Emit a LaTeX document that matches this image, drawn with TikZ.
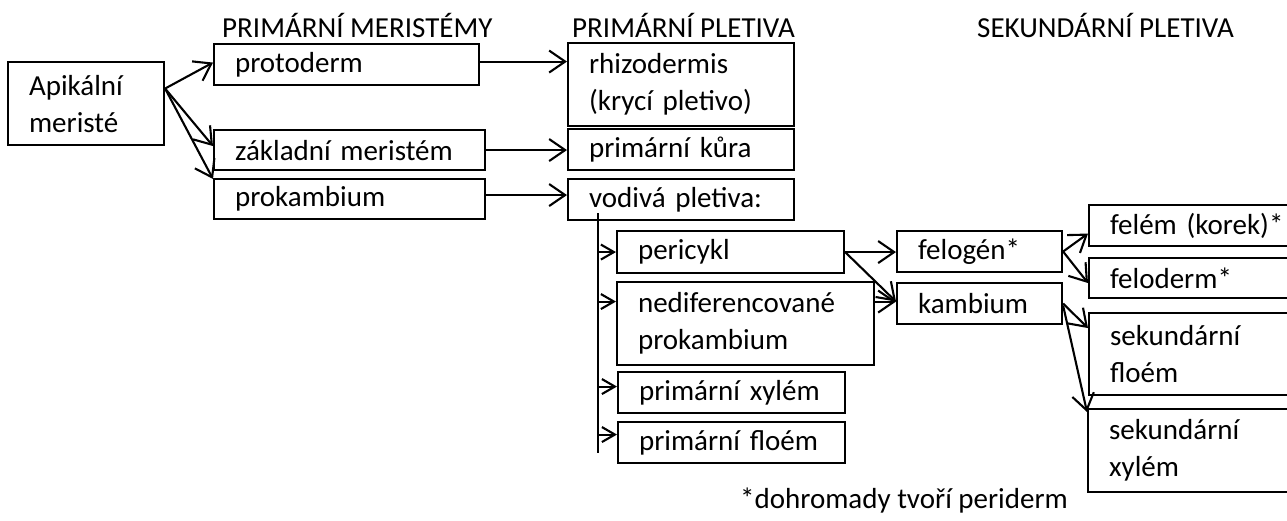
\documentclass[tikz,border=0pt]{standalone}
\usepackage{fontspec}
\setmainfont{Carlito}
\usetikzlibrary{arrows.meta,calc}
\tikzset{
  box/.style={draw, line width=2.1pt, inner xsep=21pt, inner ysep=0pt, anchor=north west, align=left},
  hdr/.style={anchor=base west, inner sep=0pt},
  arr/.style={line width=2.1pt, -{Straight Barb[length=16pt,width=22pt,line width=2.1pt]}},
  sarr/.style={line width=2.1pt, -{Straight Barb[length=13pt,width=15pt,line width=2.1pt]}},
  vline/.style={line width=2.1pt}
}
\begin{document}
\begin{tikzpicture}[x=1pt,y=-1pt,font=\fontsize{29}{37}\selectfont]
\useasboundingbox (0,0) rectangle (1287,520);
% headers
\node[hdr] (h1) at (222,37) {PRIMÁRNÍ MERISTÉMY};
\node[hdr] (h2) at (572,37) {PRIMÁRNÍ PLETIVA};
\node[hdr] (h3) at (977,37) {SEKUNDÁRNÍ PLETIVA};
% column 1
\node[box, text width=114pt, minimum height=83pt] (apik) at (7,61) {Apikální\\meristé};
% column 2
\node[box, text width=223pt, minimum height=41pt] (proto) at (213,43) {protoderm};
\node[box, text width=229pt, minimum height=40pt] (zakl) at (213,129) {základní meristém};
\node[box, text width=229pt, minimum height=40pt] (prok) at (213,178) {prokambium};
% column 3
\node[box, text width=184pt, minimum height=83pt] (rhiz) at (567,42) {rhizodermis\\(krycí pletivo)};
\node[box, text width=184pt, minimum height=41pt] (kura) at (567,128) {primární kůra};
\node[box, text width=184pt, minimum height=41pt] (vod) at (567,178) {vodivá pletiva:};
% sub column
\node[box, text width=185pt, minimum height=42pt] (peri) at (616,230) {pericykl};
\node[box, text width=215pt, minimum height=83pt] (nedif) at (616,281) {nediferencované\\prokambium};
\node[box, text width=185pt, minimum height=41pt] (pxyl) at (617,371) {primární xylém};
\node[box, text width=185pt, minimum height=41pt] (pflo) at (617,421) {primární floém};
% column 4
\node[box, text width=123pt, minimum height=41pt] (felog) at (896,230) {felogén*};
\node[box, text width=123pt, minimum height=41pt] (kamb) at (896,282) {kambium};
% column 5
\node[box, text width=218pt, minimum height=41pt] (felem) at (1088,204) {felém (korek)*};
\node[box, text width=218pt, minimum height=40pt] (felod) at (1088,257) {feloderm*};
\node[box, text width=218pt, minimum height=82pt] (sflo) at (1088,312) {sekundární\\floém};
\node[box, text width=218pt, minimum height=83pt] (sxyl) at (1087,408) {sekundární\\xylém};
% footnote
\node[hdr] (foot) at (740,508) {*dohromady tvoří periderm};
% arrows from apical meristem
\coordinate (astart) at ([yshift=15pt]apik.east);
\draw[arr] (astart) -- ([yshift=2pt]proto.west);
\draw[arr] (astart) -- ([yshift=4pt]zakl.west);
\draw[arr] (astart) -- ([yshift=-1pt]prok.north west);
% primary meristems to primary tissues
\draw[arr] ([yshift=3pt]proto.east) -- ([yshift=3pt]proto.east -| rhiz.west);
\draw[arr] (zakl.east) -- (zakl.east -| kura.west);
\draw[arr] ([yshift=4pt]prok.east) -- ([yshift=4pt]prok.east -| vod.west);
% vertical line
\coordinate (vtop) at (598,213);
\coordinate (vbot) at (598,453);
\draw[vline] (vtop) -- (vbot);
\coordinate (pa) at (peri.west);
\coordinate (na) at ([yshift=22pt]nedif.west);
\coordinate (xa) at ([yshift=6pt]pxyl.west);
\coordinate (fa) at ([yshift=8pt]pflo.west);
\draw[sarr] (vtop |- pa) -- (pa);
\draw[sarr] (vtop |- na) -- (na);
\draw[sarr] (vtop |- xa) -- (xa);
\draw[sarr] (vtop |- fa) -- (fa);
% to secondary meristems
\draw[arr] (peri.east) -- (peri.east -| felog.west);
\draw[arr] (peri.east) -- ([yshift=2pt]kamb.west);
\coordinate (ka) at ([yshift=2pt]kamb.west);
\draw[arr] (nedif.east |- ka) -- (ka);
% to secondary tissues
\draw[arr] (felog.east) -- ([yshift=-8pt]felem.west);
\draw[arr] (felog.east) -- ([yshift=-5pt]felod.west);
\draw[arr] (kamb.east) -- ([yshift=26pt]sflo.west);
\draw[arr] ([yshift=-2pt]kamb.east) -- ([yshift=-4pt]sxyl.north west);
\end{tikzpicture}
\end{document}
